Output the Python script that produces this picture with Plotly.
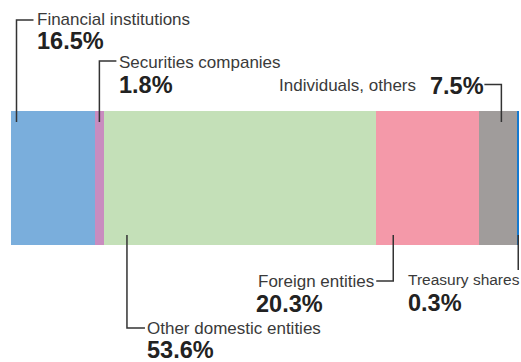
import plotly.graph_objects as go

# Shareholder composition (percent of shares outstanding)
categories = ["Financial institutions", "Securities companies", "Other domestic entities",
              "Foreign entities", "Individuals, others", "Treasury shares"]
shares = [16.5, 1.8, 53.6, 20.3, 7.5, 0.3]
colors = ["#7aaedc", "#c98cbf", "#c4e0b8", "#f499a9", "#a09c9b", "#1579cf"]
pct_labels = [f"{v:.1f}%" for v in shares]

W, H = 521, 362
ML, MR = 11, 2
unit = (W - ML - MR) / 100.0          # pixels per percentage point
FONT = "Liberation Sans, Arial, sans-serif"
LINE_C = "#333333"
LABEL_C = "#3a3a3a"
PCT_C = "#222222"

starts = []
acc = 0.0
for v in shares:
    starts.append(acc)
    acc += v

fig = go.Figure()
for name, v, c in zip(categories, shares, colors):
    fig.add_trace(go.Bar(
        x=[v], y=[178], orientation="h", width=134, name=name,
        marker=dict(color=c, line=dict(width=0)), hoverinfo="skip",
    ))


def px(n):
    """Convert a horizontal pixel distance into axis units."""
    return n / unit


shapes = []
annotations = []


def leader(path):
    shapes.append(dict(type="path", path=path, xref="x", yref="y",
                       line=dict(color=LINE_C, width=1.5), layer="above"))


def label(i, x, y, anchor, shift, big=False, size=None):
    text = pct_labels[i] if big else categories[i]
    annotations.append(dict(
        x=x, y=y, xref="x", yref="y", text=f"<b>{text}</b>" if big else text,
        showarrow=False, xanchor=anchor, yanchor="middle", xshift=shift,
        borderpad=0, borderwidth=0,
        font=dict(family=FONT, size=size or (23.5 if big else 17),
                  color=PCT_C if big else LABEL_C),
    ))


# Financial institutions: leader rises from the left edge, label above
lx = starts[0] + px(5.5)
leader(f"M {lx},122 V 20 H {lx + px(17)}")
label(0, lx + px(17), 19.5, "left", 3)
label(0, lx + px(17), 41, "left", 3, big=True)

# Securities companies: leader from the middle of its thin segment
lx = starts[1] + shares[1] / 2
leader(f"M {lx},122 V 61 H {lx + px(17)}")
label(1, lx + px(17), 62, "left", 3)
label(1, lx + px(17), 84.5, "left", 3, big=True)

# Other domestic entities: leader drops below the bar
lx = starts[2] + px(23)
leader(f"M {lx},235 V 328 H {lx + px(18)}")
label(2, lx + px(18), 328, "left", 2)
label(2, lx + px(18), 349.5, "left", 2, big=True)

# Foreign entities: leader drops, elbow turns left toward the label
lx = starts[3] + px(17)
leader(f"M {lx},235 V 281 H {lx - px(17)}")
label(3, lx - px(17), 281.5, "right", -2)
label(3, lx - px(136), 303.5, "left", -1, big=True)

# Individuals, others: leader rises, elbow turns left, value then name
lx = starts[4] + px(22)
leader(f"M {lx},122 V 84.5 H {lx - px(17)}")
label(4, lx - px(17), 86, "right", 0, big=True)
label(4, lx - px(87), 85, "right", 2)

# Treasury shares: short leader straight down
lx = starts[5] + shares[5] / 2
leader(f"M {lx},235 V 270")
label(5, lx - px(110), 279, "left", 0, size=15.5)
label(5, lx - px(110), 303, "left", 0, big=True)

fig.update_layout(
    width=W, height=H,
    margin=dict(l=ML, r=MR, t=0, b=0),
    barmode="stack", bargap=0,
    showlegend=False,
    paper_bgcolor="white", plot_bgcolor="white",
    xaxis=dict(range=[0, 100], visible=False, fixedrange=True),
    yaxis=dict(range=[H, 0], visible=False, fixedrange=True),
    shapes=shapes, annotations=annotations,
)

fig.write_html("out.html")
